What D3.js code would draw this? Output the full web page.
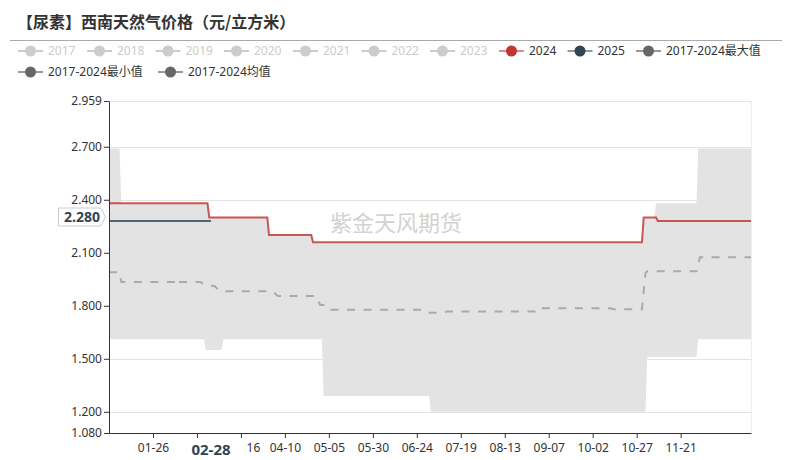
<!DOCTYPE html>
<html>
<head>
<meta charset="utf-8">
<script src="https://cdn.jsdelivr.net/npm/d3@7/dist/d3.min.js"></script>
<style>
  html, body { margin: 0; padding: 0; background: #fff; }
  svg { display: block; font-family: "Noto Sans", "Noto Sans CJK SC", sans-serif; }
</style>
</head>
<body>
<svg id="chart" width="792" height="460"></svg>
<script>
// ---------- DATA ----------
const titleText = "【尿素】西南天然气价格（元/立方米）";
const legendNames = ["2017","2018","2019","2020","2021","2022","2023","2024","2025","2017-2024最大值","2017-2024最小值","2017-2024均值"];
const legendActive = [false,false,false,false,false,false,false,true,true,true,true,true];

// 2024 series (change points, mm-dd)
const s2024Dates  = ["01-01","02-26","02-27","03-31","04-01","04-25","04-26","10-30","10-31","11-07","11-08","12-31"];
const s2024Values = [2.38,2.38,2.30,2.30,2.20,2.20,2.16,2.16,2.30,2.30,2.28,2.28];

// 2025 series
const s2025Dates  = ["01-01","02-28"];
const s2025Values = [2.28,2.28];

// 2017-2024 max
const maxDates  = ["01-01","01-07","01-08","02-26","02-27","03-31","04-01","04-25","04-26","10-30","10-31","11-06","11-07","11-30","12-01","12-31"];
const maxValues = [2.69,2.69,2.38,2.38,2.30,2.30,2.20,2.20,2.16,2.16,2.30,2.30,2.38,2.38,2.69,2.69];

// 2017-2024 min
const minDates  = ["01-01","02-24","02-25","03-05","03-06","05-01","05-02","07-01","07-02","11-01","11-02","11-30","12-01","12-31"];
const minValues = [1.61,1.61,1.55,1.55,1.61,1.61,1.29,1.29,1.20,1.20,1.51,1.51,1.61,1.61];

// 2017-2024 average
const avgDates  = ["01-01","01-07","01-08","02-06","02-07","02-08","02-09","02-22","02-25","03-01","03-04","04-03","04-06","04-28","04-30","05-02","05-04","06-27","06-30","07-09","07-11","09-01","09-02","10-12","10-14","10-30","11-01","11-02","11-30","12-02","12-31"];
const avgValues = [1.99,1.99,1.935,1.935,1.935,1.955,1.935,1.935,1.916,1.912,1.882,1.882,1.855,1.855,1.805,1.805,1.778,1.778,1.76,1.76,1.767,1.767,1.786,1.786,1.78,1.78,1.985,1.995,1.995,2.075,2.075];

const yTicks = [1.080,1.200,1.500,1.800,2.100,2.400,2.700,2.959];
const xTickLabels = ["01-26","02-20","03-16","04-10","05-05","05-30","06-24","07-19","08-13","09-07","10-02","10-27","11-21"];
const pointerX = "02-28";
const pointerY = 2.280;
const watermark = "紫金天风期货";

// ---------- CHART ----------
const fmt = d3.timeFormat("%m-%d");
const days = d3.timeDay.range(new Date(2024,0,1), new Date(2025,0,1)).map(fmt);

const svg = d3.select("#chart");
const L = 109, R = 751, T = 101, B = 433;
const x = d3.scalePoint().domain(days).range([L, R]);
const y = d3.scaleLinear().domain([1.08, 2.959]).range([B, T]);

// title
svg.append("text").attr("x", 17).attr("y", 28)
  .attr("font-family", "'Noto Sans CJK SC', sans-serif")
  .attr("font-size", 16).attr("font-weight", "bold").attr("fill", "#333")
  .text(titleText);
svg.append("line").attr("x1", 10).attr("x2", 782).attr("y1", 40.5).attr("y2", 40.5)
  .attr("stroke", "#aaa").attr("stroke-width", 1);

// legend
const legendPos = [
  [18,51],[87,51],[155.5,51],[224,51],[293,51],[361.5,51],[430,51],[499,51],[567.5,51],[636,51],
  [18,72],[158,72]
];
const legendLine = ["#ccc","#ccc","#ccc","#ccc","#ccc","#ccc","#ccc","#e08b88","#8a99a5","#999","#999","#999"];
const legendDot  = ["#ccc","#ccc","#ccc","#ccc","#ccc","#ccc","#ccc","#c23531","#2f4554","#666","#666","#666"];
legendNames.forEach((n, i) => {
  const g = svg.append("g").attr("transform", `translate(${legendPos[i][0]},${legendPos[i][1]})`);
  g.append("line").attr("x1", 0).attr("x2", 25).attr("y1", 0).attr("y2", 0)
    .attr("stroke", legendLine[i]).attr("stroke-width", 2);
  g.append("circle").attr("cx", 12.5).attr("cy", 0).attr("r", 5.5).attr("fill", legendDot[i]);
  g.append("text").attr("x", 30).attr("y", 4.3).attr("font-size", 12)
    .attr("fill", legendActive[i] ? "#333" : "#ccc").text(n);
});

// gridlines
svg.append("g").selectAll("line").data(yTicks).join("line")
  .attr("x1", L).attr("x2", R).attr("y1", d => Math.round(y(d)) + 0.5).attr("y2", d => Math.round(y(d)) + 0.5)
  .attr("stroke", "#e4e4e4").attr("stroke-width", 1);
svg.append("line").attr("x1", R + 0.5).attr("x2", R + 0.5).attr("y1", T).attr("y2", B)
  .attr("stroke", "#eee");

// band (min-max)
const toPts = (ds, vs) => ds.map((d, i) => [x(d), y(vs[i])]);
const bandPts = toPts(maxDates, maxValues).concat(toPts(minDates, minValues).reverse());
svg.append("path").attr("d", d3.line()(bandPts) + "Z").attr("fill", "#e3e3e3");

// watermark
svg.append("text").attr("x", 396).attr("y", 231).attr("text-anchor", "middle")
  .attr("font-family", "'Noto Sans CJK SC', sans-serif")
  .attr("font-size", 22).attr("fill", "#d2d2d2").text(watermark);

// lines
const line = d3.line();
svg.append("path").attr("d", line(toPts(avgDates, avgValues))).attr("fill", "none")
  .attr("stroke", "#aaa").attr("stroke-width", 2).attr("stroke-dasharray", "8,8.5");
svg.append("path").attr("d", line(toPts(s2024Dates, s2024Values))).attr("fill", "none")
  .attr("stroke", "#c23531").attr("stroke-opacity", 0.82).attr("stroke-width", 2);
svg.append("path").attr("d", line(toPts(s2025Dates, s2025Values))).attr("fill", "none")
  .attr("stroke", "#2f4554").attr("stroke-opacity", 0.8).attr("stroke-width", 2);

// axes
const yAxis = svg.append("g").attr("transform", `translate(${L},0)`)
  .call(d3.axisLeft(y).tickValues(yTicks).tickFormat(d3.format(".3f")).tickSize(5).tickSizeOuter(0));
yAxis.select(".domain").attr("stroke", "#333");
yAxis.selectAll(".tick line").attr("stroke", "#333");
yAxis.selectAll("text").attr("font-size", 12).attr("fill", "#333").attr("font-family", "'Noto Sans', sans-serif").attr("x", -7);

// x axis: labels hidden beneath the pointer label are not drawn; "03-16" shows only its tail
const px = x(pointerX);
const coverL = px - 33, coverR = px + 33;
const xAxis = svg.append("g").attr("transform", `translate(0,${B})`)
  .call(d3.axisBottom(x).tickValues(xTickLabels).tickSize(5).tickSizeOuter(0));
xAxis.select(".domain").attr("stroke", "#333");
xAxis.selectAll(".tick line").attr("stroke", "#333");
xAxis.selectAll("text").attr("font-size", 12).attr("fill", "#333").attr("font-family", "'Noto Sans', sans-serif").attr("dy", "0.95em")
  .each(function(d) {
    const t = d3.select(this);
    const w = this.getComputedTextLength();
    const cx = x(d);
    const l = cx - w / 2, r = cx + w / 2;
    if (r <= coverL || l >= coverR) return;
    if (l >= coverL && r <= coverR) t.remove();
    else if (l < coverR && r > coverR) {
      t.text(d.slice(3)).attr("text-anchor", "start").attr("x", coverR - cx + 2);
    }
  });

// axis pointer labels
svg.append("rect").attr("x", coverL).attr("y", 439).attr("width", coverR - coverL).attr("height", 21).attr("fill", "#fff");
svg.append("text").attr("x", px).attr("y", 455).attr("text-anchor", "middle")
  .attr("font-size", 15).attr("font-weight", "bold").attr("fill", "#2f4554").text(pointerX);

const py = 217;
svg.append("path")
  .attr("d", `M58.5,${py-9} L100.5,${py-9} L105.5,${py} L100.5,${py+9} L58.5,${py+9} Z`)
  .attr("fill", "#fff").attr("stroke", "#ccc").attr("stroke-width", 1);
svg.append("text").attr("x", 82).attr("y", py + 5).attr("text-anchor", "middle")
  .attr("font-size", 14).attr("font-weight", "bold").attr("fill", "#2f4554").text(d3.format(".3f")(pointerY));
</script>
</body>
</html>
